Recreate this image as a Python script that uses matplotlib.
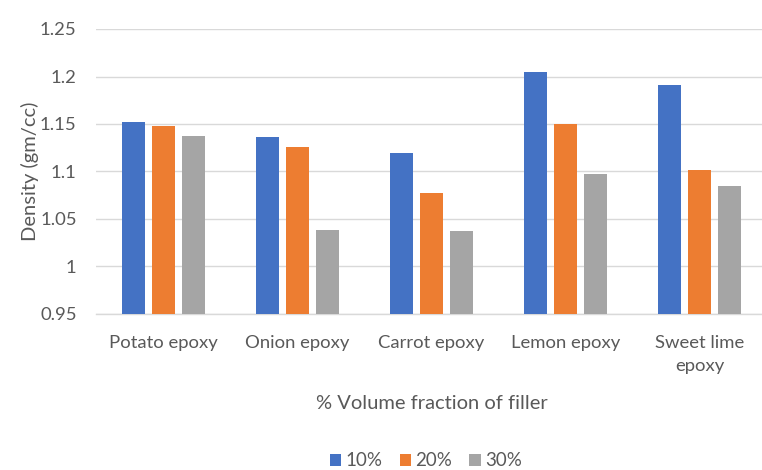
import matplotlib.pyplot as plt
import numpy as np

plt.rcParams["font.family"] = ["Lato", "DejaVu Sans"]

categories = ["Potato epoxy", "Onion epoxy", "Carrot epoxy", "Lemon epoxy", "Sweet lime\nepoxy"]
series_names = ["10%", "20%", "30%"]
density_10 = [1.152, 1.136, 1.119, 1.205, 1.191]
density_20 = [1.148, 1.126, 1.077, 1.150, 1.102]
density_30 = [1.137, 1.038, 1.037, 1.097, 1.085]
y_ticks = [0.95, 1.0, 1.05, 1.1, 1.15, 1.2, 1.25]
y_tick_labels = ["0.95", "1", "1.05", "1.1", "1.15", "1.2", "1.25"]

colors = ["#4472C4", "#ED7D31", "#A5A5A5"]
text_color = "#595959"
grid_color = "#D9D9D9"

W, H = 762, 470
fig = plt.figure(figsize=(W / 100, H / 100), dpi=100)
ax = fig.add_axes([96 / W, (H - 314) / H, 671 / W, 285 / H])

x = np.arange(len(categories))
bar_w = 0.171
offset = 0.223
for i, (vals, name) in enumerate(zip([density_10, density_20, density_30], series_names)):
    ax.bar(x + (i - 1) * offset, np.array(vals) - 0.95, bottom=0.95, width=bar_w,
           color=colors[i], label=name, zorder=3)

ax.set_xlim(-0.5, len(categories) - 0.5)
ax.set_ylim(0.95, 1.25)
ax.set_yticks(y_ticks)
ax.set_yticklabels(y_tick_labels)
ax.set_xticks(x)
ax.set_xticklabels(categories, linespacing=1.55)

ax.grid(axis="y", color=grid_color, linewidth=1.0, zorder=0)
for s in ["top", "right", "left"]:
    ax.spines[s].set_visible(False)
ax.spines["bottom"].set_color(grid_color)
ax.spines["bottom"].set_linewidth(1.0)
ax.tick_params(axis="both", length=0, colors=text_color, labelsize=13.3)
ax.tick_params(axis="y", pad=14)
ax.tick_params(axis="x", pad=15)

ax.set_ylabel("Density (gm/cc)", color=text_color, fontsize=14.5, labelpad=1)
ax.set_xlabel("% Volume fraction of filler", color=text_color, fontsize=14.5, labelpad=15)

leg = fig.legend(loc="center", bbox_to_anchor=(426 / W, (H - 461) / H), ncol=3, frameon=False,
                 fontsize=13.5, handlelength=0.6, handleheight=0.6, handletextpad=0.25,
                 columnspacing=0.9, borderpad=0.1)
for t in leg.get_texts():
    t.set_color(text_color)

fig.savefig("out.png", dpi=100, facecolor="white")
